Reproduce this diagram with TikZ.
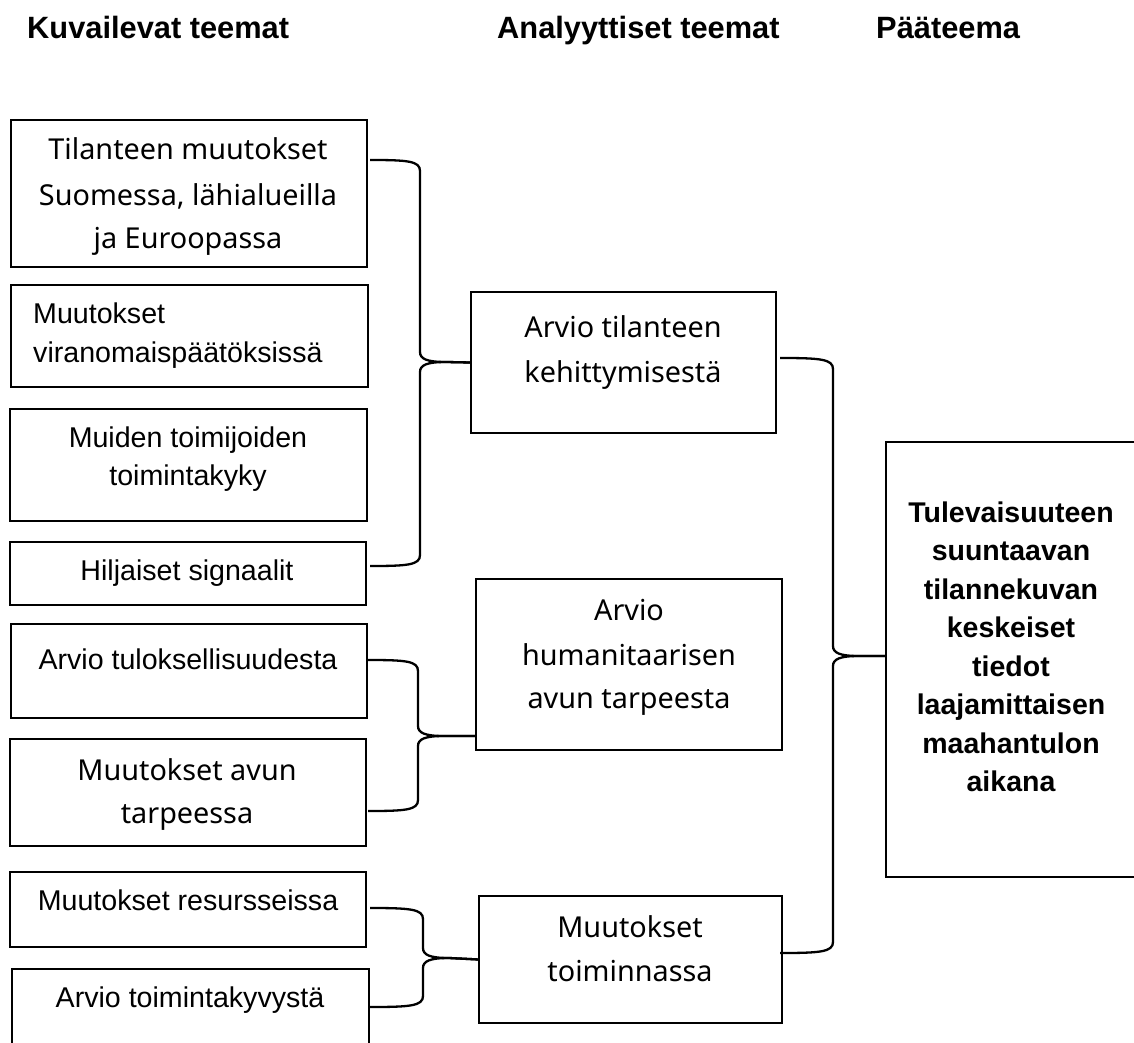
\documentclass[tikz,border=0pt]{standalone}
\usepackage{fontspec}
\setmainfont{Liberation Sans}
\newfontfamily\aptfont{Noto Sans}
\begin{document}
\begin{tikzpicture}[x=1pt,y=-1pt,
  box/.style={draw, rectangle, line width=2.7pt, inner sep=0pt, outer sep=0pt},
  arl/.style={font={\fontsize{28.6}{34}\selectfont}, inner sep=0pt, anchor=base},
  arll/.style={font={\fontsize{28.6}{34}\selectfont}, inner sep=0pt, anchor=base west},
  apt/.style={font={\aptfont\fontsize{28.8}{34}\selectfont}, inner sep=0pt, anchor=base},
  bld/.style={font={\bfseries\fontsize{28.5}{34}\selectfont}, inner sep=0pt, anchor=base},
  hdr/.style={font={\bfseries\fontsize{30.8}{36}\selectfont}, inner sep=0pt, anchor=base west},
  brc/.style={line width=2.3pt}]
\fill[white] (0,0) rectangle (1134,1043);
\useasboundingbox (0,0) rectangle (1134,1043);

% headers
\node[hdr] (h1) at (27,38.5) {Kuvailevat teemat};
\node[hdr] (h2) at (497,38.5) {Analyyttiset teemat};
\node[hdr] (h3) at (876,38.5) {Pääteema};

% left boxes
\node[box, minimum width=356pt, minimum height=147pt] (b1) at (189,193.5) {};
\node[box, minimum width=357pt, minimum height=102pt] (b2) at (189.5,336) {};
\node[box, minimum width=357pt, minimum height=112pt] (b3) at (188.5,465) {};
\node[box, minimum width=356pt, minimum height=63pt] (b4) at (188,573.5) {};
\node[box, minimum width=356pt, minimum height=94pt] (b5) at (189,671) {};
\node[box, minimum width=356pt, minimum height=107pt] (b6) at (188,792.5) {};
\node[box, minimum width=356pt, minimum height=75pt] (b7) at (188,909.5) {};
\node[box, minimum width=357pt, minimum height=90pt] (b8) at (190.5,1014) {};

\node[apt] (t1a) at (188,160) {Tilanteen muutokset};
\node[apt] (t1b) at (188,205) {Suomessa, lähialueilla};
\node[apt] (t1c) at (188,248) {ja Euroopassa};
\node[arll] (t2a) at (33,323) {Muutokset};
\node[arll] (t2b) at (33,362) {viranomaispäätöksissä};
\node[arl] (t3a) at (188,447) {Muiden toimijoiden};
\node[arl] (t3b) at (188,485) {toimintakyky};
\node[arl] (t4) at (187,580) {Hiljaiset signaalit};
\node[arl] (t5) at (188,669) {Arvio tuloksellisuudesta};
\node[apt] (t6a) at (187,780) {Muutokset avun};
\node[apt] (t6b) at (187,823) {tarpeessa};
\node[arl] (t7) at (188,910) {Muutokset resursseissa};
\node[arl] (t8) at (190,1007) {Arvio toimintakyvystä};

% middle boxes
\node[box, minimum width=305pt, minimum height=141pt] (A) at (623.5,362.5) {};
\node[box, minimum width=306pt, minimum height=171pt] (B) at (629,664.5) {};
\node[box, minimum width=303pt, minimum height=127pt] (C) at (630.5,959.5) {};

\node[apt] (tAa) at (623,337) {Arvio tilanteen};
\node[apt] (tAb) at (623,382) {kehittymisestä};
\node[apt] (tBa) at (629,620) {Arvio};
\node[apt] (tBb) at (629,665) {humanitaarisen};
\node[apt] (tBc) at (629,708) {avun tarpeesta};
\node[apt] (tCa) at (630,937) {Muutokset};
\node[apt] (tCb) at (630,981) {toiminnassa};

% right box
\node[box, minimum width=252pt, minimum height=435pt] (R) at (1012,659.5) {};
\node[bld] (r1) at (1011,522) {Tulevaisuuteen};
\node[bld] (r2) at (1011,560.5) {suuntaavan};
\node[bld] (r3) at (1011,599) {tilannekuvan};
\node[bld] (r4) at (1011,637.5) {keskeiset};
\node[bld] (r5) at (1011,676) {tiedot};
\node[bld] (r6) at (1011,714.5) {laajamittaisen};
\node[bld] (r7) at (1011,753) {maahantulon};
\node[bld] (r8) at (1011,791.5) {aikana};

% brace endpoints
\coordinate (k1t) at (370,160);
\coordinate (k1b) at (370,566);
\coordinate (k2t) at (368,660);
\coordinate (k2b) at (368,811);
\coordinate (k2e) at (476,736);
\coordinate (k3t) at (780,358);
\coordinate (k3b) at (780,953);
\coordinate (k3e) at (886,656);
\coordinate (k4t) at (370,908);
\coordinate (k4b) at (370,1007);

% brace 1
\draw[brc] (k1t) .. controls (408,160) and (420,161) .. (420,171) -- (420,352)
  .. controls (420,359) and (427,362) .. (446,362) -- (A.west);
\draw[brc] (k1b) .. controls (408,566) and (420,565) .. (420,555) -- (420,372)
  .. controls (420,365) and (427,362) .. (446,362) -- (A.west);
% brace 2
\draw[brc] (k2t) .. controls (406,660) and (418,661) .. (418,671) -- (418,726)
  .. controls (418,733) and (425,736) .. (444,736) -- (k2e);
\draw[brc] (k2b) .. controls (406,811) and (418,810) .. (418,800) -- (418,746)
  .. controls (418,739) and (425,736) .. (444,736) -- (k2e);
% brace 3
\draw[brc] (k3t) .. controls (820,358) and (833,359) .. (833,369) -- (833,646)
  .. controls (833,653) and (840,656) .. (859,656) -- (k3e);
\draw[brc] (k3b) .. controls (820,953) and (833,952) .. (833,942) -- (833,666)
  .. controls (833,659) and (840,656) .. (859,656) -- (k3e);
% brace 4
\draw[brc] (k4t) .. controls (410,908) and (423,909) .. (423,919) -- (423,948)
  .. controls (423,955) and (430,958) .. (449,958) -- (C.west);
\draw[brc] (k4b) .. controls (410,1007) and (423,1006) .. (423,996) -- (423,968)
  .. controls (423,961) and (430,958) .. (449,958) -- (C.west);
\end{tikzpicture}
\end{document}
